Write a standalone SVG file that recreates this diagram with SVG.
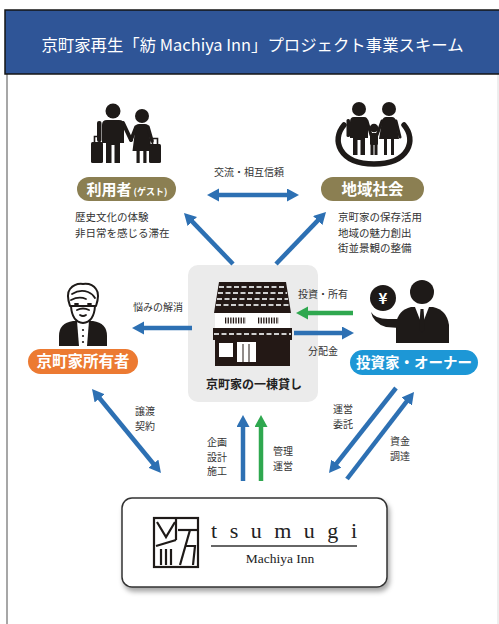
<svg xmlns="http://www.w3.org/2000/svg" width="499" height="624" viewBox="0 0 499 624">
  <style>
    .jp { font-family: "Noto Sans CJK JP", "Noto Sans", sans-serif; }
    .lbl { font-family: "Noto Sans CJK JP", sans-serif; font-size: 10px; fill: #333; }
    .desc { font-family: "Noto Sans CJK JP", sans-serif; font-size: 10.5px; fill: #333; }
    .pill-t { font-family: "Noto Sans CJK JP", sans-serif; font-weight: 700; fill: #fff; text-anchor: middle; }
    .ink { fill: #1e1a18; }
    .blue { stroke: #2d70b3; stroke-width: 4.5; fill: none; }
    .green { stroke: #2fa84f; stroke-width: 4.5; fill: none; }
    .serif { font-family: "Liberation Serif", serif; fill: #222; }
  </style>
  <defs>
    <marker id="hb" markerUnits="userSpaceOnUse" markerWidth="14" markerHeight="14" refX="1" refY="6.5" orient="auto-start-reverse">
      <path d="M0,0 L12,6.5 L0,13 Z" fill="#2d70b3"/>
    </marker>
    <marker id="hg" markerUnits="userSpaceOnUse" markerWidth="14" markerHeight="14" refX="1" refY="6.5" orient="auto-start-reverse">
      <path d="M0,0 L12,6.5 L0,13 Z" fill="#2fa84f"/>
    </marker>
    <filter id="shadow" x="-10%" y="-20%" width="125%" height="150%">
      <feDropShadow dx="2" dy="4" stdDeviation="2.5" flood-color="#000" flood-opacity="0.35"/>
    </filter>
  </defs>

  <rect width="499" height="624" fill="#fff"/>

  <!-- frame -->
  <line x1="7" y1="74" x2="7" y2="624" stroke="#8a8a8a" stroke-width="1.5"/>
  <line x1="498" y1="74" x2="498" y2="624" stroke="#dcdcdc" stroke-width="1"/>

  <!-- header -->
  <g id="header">
    <rect x="5" y="10" width="496" height="64" fill="#2f5597" stroke="#151515" stroke-width="1.5"/>
    <text x="252.5" y="51" class="jp" font-size="16.4" fill="#fff" text-anchor="middle">京町家再生「紡 Machiya Inn」プロジェクト事業スキーム</text>
  </g>

  <!-- guests -->
  <g id="guest">
    <g class="ink">
      <circle cx="113" cy="111" r="7.5"/>
      <path d="M102,125 Q102,120 107,120 L119,120 Q124,120 124,125 L124,143 L120,143 L120,163 L114.5,163 L114.5,145 L111.5,145 L111.5,163 L106,163 L106,143 L102,143 Z"/>
      <rect x="97" y="121" width="4.5" height="21" rx="2"/>
      <rect x="91" y="142" width="12" height="21" rx="1.5"/>
      <circle cx="142" cy="116" r="7"/>
      <path d="M135.5,127 Q135.5,124 139,124 L145,124 Q148.5,124 148.5,127 L151.5,151 L132.5,151 Z"/>
      <rect x="136.5" y="150" width="3.2" height="13"/>
      <rect x="143.3" y="150" width="3.2" height="13"/>
      <rect x="149" y="144" width="12" height="19" rx="1.5"/>
    </g>
    <g stroke="#1e1a18" fill="none" stroke-linecap="round">
      <path d="M94.5,142 L94.5,136.5 L99.5,136.5 L99.5,142" stroke-width="1.6"/>
      <path d="M152.5,144 L152.5,138.5 L157.5,138.5 L157.5,144" stroke-width="1.6"/>
      <path d="M123,123 L131,140" stroke-width="4"/>
      <path d="M136,127 L131,140" stroke-width="3.5"/>
      <path d="M148,127 L152,141" stroke-width="3.5"/>
    </g>
    <rect x="77" y="177" width="99" height="24" rx="12" fill="#8b7f52"/>
    <text x="127" y="195" class="pill-t" font-size="15">利用者<tspan font-size="9" dx="2">(ゲスト)</tspan></text>
    <text class="desc" x="75" y="221">歴史文化の体験</text>
    <text class="desc" x="75" y="236.5">非日常を感じる滞在</text>
  </g>

  <!-- local community -->
  <g id="community">
    <path d="M344,125 C331,140 339,164 374,164 C409,164 417,140 404,125" stroke="#1e1a18" stroke-width="5.5" fill="none" stroke-linecap="round"/>
    <g class="ink">
      <circle cx="359" cy="109" r="7"/>
      <path d="M350,122 Q350,117 354,117 L364,117 Q368,117 368,122 L368,138 L365,138 L365,155 L360.5,155 L360.5,140 L357.5,140 L357.5,155 L353,155 L353,138 L350,138 Z"/>
      <rect x="346.5" y="119" width="3.5" height="18" rx="1.5"/>
      <circle cx="389" cy="109" r="7"/>
      <path d="M382,121 Q383,117 386,117 L392,117 Q395,117 396,121 L399,139 L379,139 Z"/>
      <rect x="384" y="138" width="3" height="17"/>
      <rect x="391" y="138" width="3" height="17"/>
      <circle cx="374" cy="128" r="4.3"/>
      <rect x="370" y="133" width="8" height="12" rx="1.5"/>
      <rect x="370.5" y="144" width="3" height="11"/>
      <rect x="374.5" y="144" width="3" height="11"/>
    </g>
    <g stroke="#1e1a18" stroke-width="3" stroke-linecap="round">
      <line x1="367" y1="121" x2="371" y2="135"/>
      <line x1="382" y1="121" x2="377" y2="135"/>
      <line x1="396" y1="121" x2="400" y2="137"/>
    </g>
    <rect x="321" y="177" width="103" height="24" rx="12" fill="#8b7f52"/>
    <text x="372.5" y="195" class="pill-t" font-size="15.5">地域社会</text>
    <text class="desc" x="338" y="221">京町家の保存活用</text>
    <text class="desc" x="338" y="236.5">地域の魅力創出</text>
    <text class="desc" x="338" y="252">街並景観の整備</text>
  </g>

  <!-- owner -->
  <g id="owner">
    <path class="ink" d="M59,346 L59,336 Q59,323 73,321 L93,321 Q107,323 107,336 L107,346 Z"/>
    <path d="M77,321 L89,321 L87,346 L79,346 Z" fill="#fff"/>
    <g class="ink">
      <circle cx="83" cy="330" r="1.1"/>
      <circle cx="83" cy="336" r="1.1"/>
      <circle cx="83" cy="342" r="1.1"/>
    </g>
    <g fill="#fff" stroke="#1e1a18" stroke-width="2" stroke-linejoin="round">
      <path d="M70,306 Q66,294 70,289 Q75,283 83,284 Q92,283 96,289 Q100,294 96,306 Z"/>
      <path d="M71,306 Q72,322 83,323 Q94,322 95,306 Z"/>
    </g>
    <g fill="none" stroke="#1e1a18" stroke-width="1.8" stroke-linecap="round">
      <path d="M72,294 Q80,289 88,292 Q93,294 95,298"/>
      <path d="M71,300 Q79,296 86,299"/>
      <path d="M77,310 Q83,307 89,310"/>
      <path d="M80,315 Q83,317 86,315"/>
      <path d="M75,304 L78,304 M88,304 L91,304"/>
    </g>
    <rect x="28" y="349" width="110" height="25" rx="12.5" fill="#ec7a32"/>
    <text x="83" y="367" class="pill-t" font-size="15.5">京町家所有者</text>
  </g>

  <!-- investor -->
  <g id="investor">
    <g class="ink">
      <circle cx="422" cy="292" r="12"/>
      <path d="M396,343 L396,324 Q398,310 411,307 L433,307 Q447,310 449,325 L449,343 Z"/>
      <path d="M371,312 Q375,319 388,319 L399,319 L399,328 L386,327 Q373,323 371,312 Z"/>
      <circle cx="383" cy="298" r="13"/>
    </g>
    <path d="M415,307 L429,307 L422,325 Z" fill="#fff"/>
    <path d="M420.5,309 L423.5,309 L425,329 L422,333 L419,329 Z" fill="#1e1a18"/>
    <text x="383" y="304" class="pill-t" font-size="15" font-family="Liberation Sans, sans-serif">¥</text>
    <rect x="350" y="350" width="128" height="25" rx="12.5" fill="#1d97d6"/>
    <text x="414" y="368" class="pill-t" font-size="14.5">投資家・オーナー</text>
  </g>

  <!-- whole-house rental machiya -->
  <g id="machiya">
    <rect x="188" y="265" width="130" height="137" rx="10" fill="#ebebeb"/>
    <path d="M219,282 L286,282 L291,313 L214,313 Z" fill="#231815"/>
    <g stroke="#cfcfcf" stroke-width="2" stroke-dasharray="5 2.5">
      <line x1="219" y1="287" x2="286" y2="287"/>
      <line x1="218" y1="293" x2="287" y2="293"/>
      <line x1="217" y1="299" x2="288" y2="299"/>
      <line x1="216" y1="305" x2="289" y2="305"/>
    </g>
    <rect x="215" y="313" width="75" height="15" fill="#fff"/>
    <g stroke="#231815" stroke-width="6" stroke-dasharray="1.3 1.3">
      <line x1="225" y1="320.5" x2="246" y2="320.5"/>
      <line x1="258" y1="320.5" x2="279" y2="320.5"/>
    </g>
    <rect x="213" y="328" width="79" height="12" fill="#231815"/>
    <line x1="214" y1="334" x2="291" y2="334" stroke="#cfcfcf" stroke-width="2" stroke-dasharray="5 2.5"/>
    <rect x="215" y="340" width="75" height="26" fill="#231815"/>
    <rect x="219" y="343" width="14" height="14" fill="#fff"/>
    <rect x="237" y="342" width="19" height="20" fill="#fff"/>
    <g stroke="#231815" stroke-width="1">
      <line x1="243" y1="344" x2="243" y2="362"/>
      <line x1="249" y1="344" x2="249" y2="362"/>
    </g>
    <text x="254" y="389" class="jp" font-size="12" font-weight="700" fill="#222" text-anchor="middle">京町家の一棟貸し</text>
  </g>

  <!-- operator -->
  <g id="tsumugi">
    <rect x="122" y="498" width="265" height="89" rx="10" fill="#fff" stroke="#333" stroke-width="1.5" filter="url(#shadow)"/>
    <g fill="none" stroke="#1e1a18" stroke-width="2.2" stroke-linejoin="miter">
      <rect x="154" y="518" width="44" height="49"/>
      <path d="M157,522 L166,537 L175,522"/>
      <path d="M156,546 L176,540"/>
      <path d="M161,549 L161,565 M166,549 L166,565 M171,549 L171,565"/>
      <path d="M176,518 L176,540"/>
      <path d="M178,530 L198,530"/>
      <path d="M190,530 L180,565"/>
      <path d="M185,546 L195,546 L193,565"/>
    </g>
    <text x="211" y="538" class="serif" font-size="22" textLength="146" lengthAdjust="spacing">tsumugi</text>
    <line x1="211" y1="546" x2="357" y2="546" stroke="#333" stroke-width="1.5"/>
    <text x="280" y="563" class="serif" font-size="13.5" text-anchor="middle">Machiya Inn</text>
  </g>

  <!-- connectors, drawn over the node shapes -->
  <g id="connectors">
    <line class="blue" x1="218" y1="195" x2="288" y2="195" marker-start="url(#hb)" marker-end="url(#hb)"/>
    <line class="blue" x1="233" y1="264" x2="191.6" y2="220.9" marker-end="url(#hb)"/>
    <line class="blue" x1="276" y1="264" x2="318.4" y2="219.9" marker-end="url(#hb)"/>
    <line class="blue" x1="192" y1="328" x2="143" y2="328" marker-end="url(#hb)"/>
    <line class="green" x1="353" y1="313" x2="307" y2="313" marker-end="url(#hg)"/>
    <line class="blue" x1="294" y1="333" x2="343" y2="333" marker-end="url(#hb)"/>
    <line class="blue" x1="99" y1="397.5" x2="154" y2="464.5" marker-start="url(#hb)" marker-end="url(#hb)"/>
    <line class="blue" x1="243" y1="481" x2="243" y2="426" marker-end="url(#hb)"/>
    <line class="green" x1="261" y1="481" x2="261" y2="426" marker-end="url(#hg)"/>
    <line class="blue" x1="396" y1="388" x2="335.8" y2="464.4" marker-end="url(#hb)"/>
    <line class="blue" x1="347" y1="479" x2="407.3" y2="400.7" marker-end="url(#hb)"/>

    <text class="lbl" x="214" y="176" font-size="10.5">交流・相互信頼</text>
    <text class="lbl" x="133" y="311">悩みの解消</text>
    <text class="lbl" x="298" y="298">投資・所有</text>
    <text class="lbl" x="308" y="355">分配金</text>
    <text class="lbl" x="135" y="415">譲渡</text>
    <text class="lbl" x="135" y="430">契約</text>
    <text class="lbl" x="207" y="446">企画</text>
    <text class="lbl" x="207" y="460.5">設計</text>
    <text class="lbl" x="207" y="475">施工</text>
    <text class="lbl" x="273" y="455">管理</text>
    <text class="lbl" x="273" y="469.5">運営</text>
    <text class="lbl" x="333" y="413">運営</text>
    <text class="lbl" x="333" y="427.5">委託</text>
    <text class="lbl" x="390" y="445">資金</text>
    <text class="lbl" x="390" y="459.5">調達</text>
  </g>
</svg>
